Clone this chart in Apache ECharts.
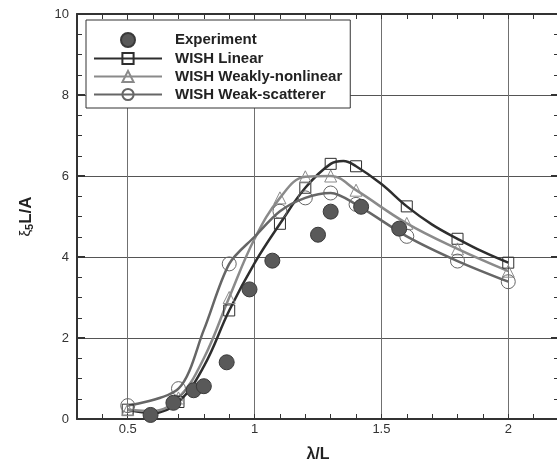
<!DOCTYPE html>
<html>
<head>
<meta charset="utf-8">
<script src="https://cdn.jsdelivr.net/npm/echarts@6/dist/echarts.min.js"></script>
<style>
  html, body { margin: 0; padding: 0; background: #fff; }
  #main { width: 557px; height: 468px; }
</style>
</head>
<body>
<div id="main"></div>
<script>
"use strict";

// measured values
var expX = [0.59, 0.68, 0.76, 0.8, 0.89, 0.98, 1.07, 1.25, 1.3, 1.42, 1.57];
var expY = [0.1, 0.4, 0.71, 0.81, 1.4, 3.2, 3.91, 4.55, 5.12, 5.24, 4.7];

// x positions that carry a marker on the WISH curves
var markerX = [0.5, 0.7, 0.9, 1.1, 1.2, 1.3, 1.4, 1.6, 1.8, 2.0];

var linearX = [0.5, 0.6, 0.7, 0.8, 0.9, 1.0, 1.1, 1.2, 1.3, 1.35, 1.4, 1.5, 1.6, 1.7, 1.8, 1.9, 2.0];
var linearY = [0.23, 0.15, 0.42, 1.3, 2.68, 3.85, 4.82, 5.71, 6.3, 6.37, 6.24, 5.8, 5.25, 4.8, 4.45, 4.13, 3.86];

var weaklyX = [0.5, 0.6, 0.7, 0.8, 0.9, 1.0, 1.1, 1.2, 1.3, 1.4, 1.6, 1.8, 2.0];
var weaklyY = [0.23, 0.2, 0.52, 1.5, 3.0, 4.45, 5.46, 5.98, 6.0, 5.65, 4.83, 4.2, 3.65];

var scatX = [0.5, 0.7, 0.8, 0.9, 1.0, 1.1, 1.2, 1.3, 1.4, 1.6, 1.8, 2.0];
var scatY = [0.33, 0.75, 2.2, 3.83, 4.5, 5.13, 5.46, 5.58, 5.3, 4.51, 3.9, 3.39];

var xTicksMajor = [0.5, 1, 1.5, 2];
var yTicks = [0, 2, 4, 6, 8, 10];

function pairs(xs, ys, withMarkers) {
  return xs.map(function (x, i) {
    var item = { value: [x, ys[i]] };
    if (withMarkers && markerX.indexOf(x) < 0) item.symbol = "none";
    return item;
  });
}

var font = "Liberation Sans, Arial, sans-serif";
var gridColor = "#707070";
// split lines every 0.1 from 0.3, only 0.5 multiples are visible
var splitColors = ["rgba(0,0,0,0)", "rgba(0,0,0,0)", gridColor, "rgba(0,0,0,0)", "rgba(0,0,0,0)"];

var chart = echarts.init(document.getElementById("main"));

function xAxisBase(pos) {
  return {
    type: "value",
    position: pos,
    min: 0.3,
    max: 2.2,
    interval: 0.1,
    axisLine: { show: true, onZero: false, lineStyle: { color: "#333", width: 2 } },
    axisTick: { show: true, inside: true, length: 5, lineStyle: { color: "#333", width: 1 } },
    splitLine: { show: false },
    axisLabel: { show: false }
  };
}

function yAxisBase(pos) {
  return {
    type: "value",
    position: pos,
    min: 0,
    max: 10,
    interval: 2,
    axisLine: { show: true, onZero: false, lineStyle: { color: "#333", width: 2 } },
    axisTick: { show: true, inside: true, length: 8, lineStyle: { color: "#333", width: 2 } },
    minorTick: { show: true, splitNumber: 4, length: 5, lineStyle: { color: "#333", width: 1 } },
    splitLine: { show: false },
    axisLabel: { show: false }
  };
}

var xBottom = xAxisBase("bottom");
xBottom.splitLine = { show: true, lineStyle: { color: splitColors, width: 1 } };
xBottom.axisLabel = {
  show: true,
  margin: 4,
  fontSize: 13,
  color: "#333",
  fontFamily: font,
  formatter: function (v) {
    for (var i = 0; i < xTicksMajor.length; i++) {
      if (Math.abs(v - xTicksMajor[i]) < 1e-6) return String(xTicksMajor[i]);
    }
    return "";
  }
};
xBottom.name = "λ/L";
xBottom.nameLocation = "middle";
xBottom.nameGap = 28;
xBottom.nameTextStyle = { fontSize: 16, fontWeight: "bold", color: "#222", fontFamily: font };

var xTop = xAxisBase("top");

var yLeft = yAxisBase("left");
yLeft.splitLine = { show: true, lineStyle: { color: "#555", width: 1 } };
yLeft.axisLabel = {
  show: true,
  margin: 8,
  fontSize: 13,
  color: "#333",
  fontFamily: font,
  formatter: function (v) {
    return yTicks.indexOf(v) >= 0 ? String(v) : "";
  }
};
yLeft.name = "{a|ξ}{s|5}{b|L/A}";
yLeft.nameLocation = "middle";
yLeft.nameGap = 42;
yLeft.nameTextStyle = {
  rich: {
    a: { fontSize: 15, color: "#222", fontFamily: font },
    s: { fontSize: 11, fontWeight: "bold", color: "#222", fontFamily: font, verticalAlign: "bottom", padding: [7, 0, 0, 0] },
    b: { fontSize: 17, fontWeight: "bold", color: "#222", fontFamily: font }
  }
};

var yRight = yAxisBase("right");

var option = {
  animation: false,
  backgroundColor: "#fff",
  grid: { left: 77, top: 14, width: 482, height: 405, outerBoundsMode: "none", containLabel: false },
  xAxis: [xBottom, xTop],
  yAxis: [yLeft, yRight],
  legend: {
    data: ["Experiment", "WISH Linear", "WISH Weakly-nonlinear", "WISH Weak-scatterer"],
    orient: "vertical",
    left: 86,
    top: 20,
    padding: [12, 8, 6, 7],
    itemGap: 3,
    itemWidth: 68,
    itemHeight: 14,
    borderColor: "#333",
    borderWidth: 1,
    backgroundColor: "#fff",
    textStyle: { fontSize: 15, lineHeight: 14, fontWeight: "bold", color: "#222", fontFamily: font, padding: [0, 0, 0, 8] }
  },
  series: [
    {
      name: "WISH Linear",
      type: "line",
      smooth: 0.4,
      data: pairs(linearX, linearY, true),
      symbol: "rect",
      symbolSize: 11,
      lineStyle: { color: "#2e2e2e", width: 2.5 },
      itemStyle: { color: "rgba(255,255,255,0)", borderColor: "#2e2e2e", borderWidth: 1 },
      z: 3
    },
    {
      name: "WISH Weakly-nonlinear",
      type: "line",
      smooth: 0.4,
      data: pairs(weaklyX, weaklyY, true),
      symbol: "triangle",
      symbolSize: 12,
      lineStyle: { color: "#8a8a8a", width: 2.5 },
      itemStyle: { color: "rgba(255,255,255,0)", borderColor: "#8a8a8a", borderWidth: 1 },
      z: 3
    },
    {
      name: "WISH Weak-scatterer",
      type: "line",
      smooth: 0.3,
      data: pairs(scatX, scatY, true),
      symbol: "circle",
      symbolSize: 14,
      lineStyle: { color: "#666", width: 2.5 },
      itemStyle: { color: "rgba(255,255,255,0)", borderColor: "#666", borderWidth: 1 },
      z: 3
    },
    {
      name: "Experiment",
      type: "scatter",
      data: pairs(expX, expY, false),
      symbol: "circle",
      symbolSize: 15,
      itemStyle: { color: "#595959", borderColor: "#3a3a3a", borderWidth: 1, opacity: 1 },
      z: 4
    }
  ]
};

chart.setOption(option);
</script>
</body>
</html>
